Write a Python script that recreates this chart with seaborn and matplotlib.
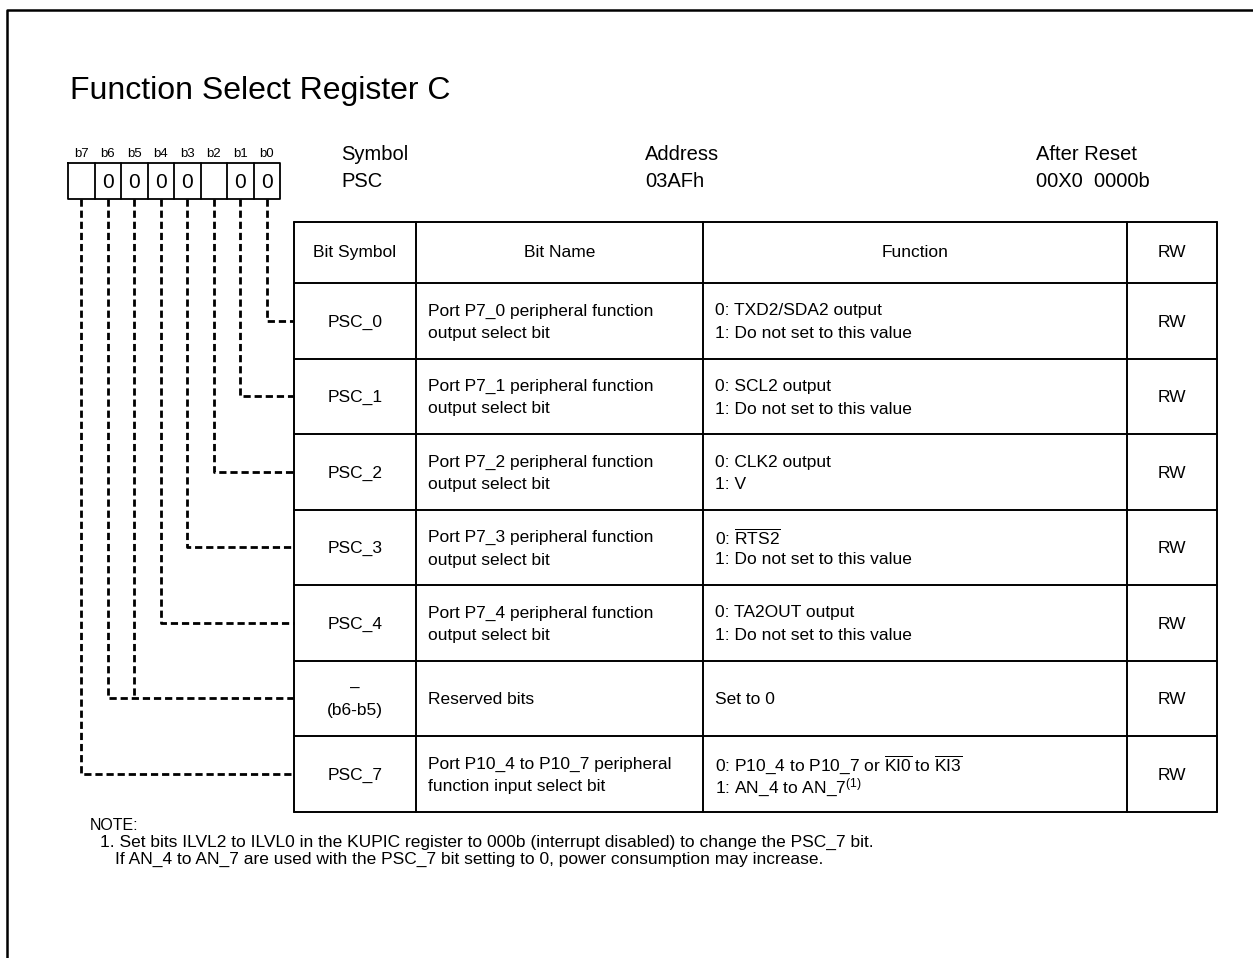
import matplotlib
matplotlib.use('Agg')
import matplotlib.pyplot as plt
import seaborn as sns

# data
title = 'Function Select Register C'
bit_labels = ['b7', 'b6', 'b5', 'b4', 'b3', 'b2', 'b1', 'b0']
bit_values = ['', '0', '0', '0', '0', '', '0', '0']
info_heads = ['Symbol', 'Address', 'After Reset']
info_values = ['PSC', '03AFh', '00X0  0000b']
col_heads = ['Bit Symbol', 'Bit Name', 'Function', 'RW']
symbols = ['PSC_0', 'PSC_1', 'PSC_2', 'PSC_3', 'PSC_4', '–\n(b6-b5)', 'PSC_7']
names = ['Port P7_0 peripheral function\noutput select bit',
         'Port P7_1 peripheral function\noutput select bit',
         'Port P7_2 peripheral function\noutput select bit',
         'Port P7_3 peripheral function\noutput select bit',
         'Port P7_4 peripheral function\noutput select bit',
         'Reserved bits',
         'Port P10_4 to P10_7 peripheral\nfunction input select bit']
functions = ['0: TXD2/SDA2 output\n1: Do not set to this value',
             '0: SCL2 output\n1: Do not set to this value',
             '0: CLK2 output\n1: V',
             '0: $\\overline{\\mathrm{RTS2}}$\n1: Do not set to this value',
             '0: TA2OUT output\n1: Do not set to this value',
             'Set to 0',
             '0: P10_4 to P10_7 or $\\overline{\\mathrm{KI0}}$ to $\\overline{\\mathrm{KI3}}$\n'
             '1: AN_4 to AN_7$^{(1)}$']
access = ['RW', 'RW', 'RW', 'RW', 'RW', 'RW', 'RW']
row_bits = [[0], [1], [2], [3], [4], [6, 5], [7]]
notes = ['NOTE:',
         '1. Set bits ILVL2 to ILVL0 in the KUPIC register to 000b (interrupt disabled) to change the PSC_7 bit.',
         'If AN_4 to AN_7 are used with the PSC_7 bit setting to 0, power consumption may increase.']

sns.set_theme(style='white')
plt.rcParams['font.family'] = ['Liberation Sans', 'DejaVu Sans']
plt.rcParams['text.color'] = 'black'
plt.rcParams['mathtext.fontset'] = 'custom'
plt.rcParams['mathtext.rm'] = 'Liberation Sans'
plt.rcParams['mathtext.it'] = 'Liberation Sans'
plt.rcParams['mathtext.bf'] = 'Liberation Sans:bold'

W, H = 1253, 958
fig = plt.figure(figsize=(W / 100, H / 100), dpi=100)
ax = fig.add_axes([0, 0, 1, 1])
ax.set_xlim(0, W)
ax.set_ylim(H, 0)
ax.axis('off')

# outer frame (open to the right / bottom)
ax.plot([7, 7, W + 5], [H + 5, 10, 10], color='black', lw=1.8, solid_capstyle='projecting')

ax.text(70, 99, title, fontsize=23, va='baseline', ha='left')

# bit boxes
box_l, box_r, box_t, box_b = 68, 280, 163, 199
cw = (box_r - box_l) / 8
ax.plot([box_l, box_r, box_r, box_l, box_l], [box_t, box_t, box_b, box_b, box_t], color='black', lw=1.3)
for i, (lab, val) in enumerate(zip(bit_labels, bit_values)):
    cx = box_l + cw * (i + 0.5)
    if i > 0:
        ax.plot([box_l + cw * i] * 2, [box_t, box_b], color='black', lw=1.3)
    ax.text(cx, 154, lab, fontsize=9.5, ha='center', va='center')
    ax.text(cx, 182, val, fontsize=15, ha='center', va='center')

info_x = [341, 645, 1036]
for x, h, v in zip(info_x, info_heads, info_values):
    ax.text(x, 154, h, fontsize=14.5, ha='left', va='center')
    ax.text(x, 181, v, fontsize=14.5, ha='left', va='center')

# table
cols = [294, 416, 703, 1127, 1217]
head_t, head_b = 222, 283
row_h = 75.5
n = len(symbols)
rows = [head_t, head_b] + [head_b + row_h * (k + 1) for k in range(n)]
for y in rows:
    ax.plot([cols[0], cols[-1]], [y, y], color='black', lw=1.4)
for x in cols:
    ax.plot([x, x], [rows[0], rows[-1]], color='black', lw=1.4)

hy = (head_t + head_b) / 2
for k, h in enumerate(col_heads):
    ax.text((cols[k] + cols[k + 1]) / 2, hy, h, fontsize=12.5, ha='center', va='center')


def cell_text(x, cy, s, ha):
    lines = s.split('\n')
    for j, line in enumerate(lines):
        y = cy + (j - (len(lines) - 1) / 2) * 22.5
        ax.text(x, y, line, fontsize=12.5, ha=ha, va='center_baseline')


dash = (0, (2.6, 1.4))
for r in range(n):
    cy = head_b + row_h * (r + 0.5)
    cell_text((cols[0] + cols[1]) / 2, cy, symbols[r], 'center')
    cell_text(cols[1] + 12, cy, names[r], 'left')
    cell_text(cols[2] + 12, cy, functions[r], 'left')
    cell_text((cols[3] + cols[4]) / 2, cy, access[r], 'center')
    # connectors from the bit boxes
    for j, b in enumerate(row_bits[r]):
        bx = box_l + cw * (7 - b + 0.5)
        if j == 0:
            ax.plot([bx, bx, cols[0]], [box_b, cy, cy], color='black', lw=2, linestyle=dash)
        else:
            ax.plot([bx, bx], [box_b, cy], color='black', lw=2, linestyle=dash)

ax.text(90, 825, notes[0], fontsize=11.5, ha='left', va='center')
ax.text(100, 842, notes[1], fontsize=12.5, ha='left', va='center')
ax.text(115, 859, notes[2], fontsize=12.5, ha='left', va='center')

fig.savefig('out.png', dpi=100)
